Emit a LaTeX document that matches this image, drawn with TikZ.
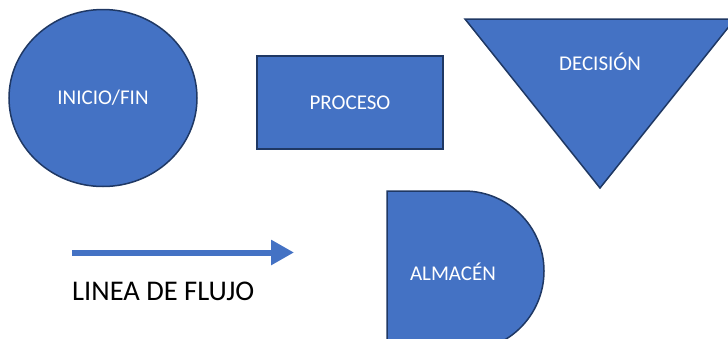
\documentclass[tikz,border=0pt]{standalone}
\usepackage{fontspec}
\setmainfont{Carlito}
\usepackage{xcolor}
\definecolor{colorFill}{HTML}{4472C4}
\definecolor{colorLine}{HTML}{1F3864}
\usetikzlibrary{arrows.meta, shapes.geometric}
\tikzset{shapebox/.style={fill=colorFill, draw=colorLine, line width=1.5pt},
         shapetext/.style={text=white, font=\fontsize{21}{24}\selectfont}}

\begin{document}
\begin{tikzpicture}[x=1pt, y=-1pt]
\useasboundingbox (0,0) rectangle (728,338);
\node[ellipse, shapebox, minimum width=188pt, minimum height=177pt, inner sep=0pt] (inicio) at (103,98) {};
\node[shapetext] at (inicio.center) {INICIO/FIN};
\node[rectangle, shapebox, minimum width=186pt, minimum height=93pt, inner sep=0pt] (proceso) at (350,102.5) {};
\node[shapetext] at (proceso.center) {PROCESO};
\draw[shapebox] (465,19) -- (735,19) -- (600,188) -- cycle;
\node[shapetext] (decision) at (600,62) {DECISIÓN};
\draw[shapebox] (387,191) -- (464,191) arc (-90:90:80) -- (387,351) -- cycle;
\node[shapetext] (almacen) at (453,272) {ALMACÉN};
\coordinate (flujoA) at (72,252.5);
\coordinate (flujoB) at (294,252.5);
\draw[colorFill, line width=6pt, -{Triangle[length=23pt, width=24pt]}] (flujoA) -- (flujoB);
\node[font=\fontsize{28.5}{32}\selectfont, anchor=west, inner sep=0pt] (flujo) at (72,291) {LINEA DE FLUJO};
\end{tikzpicture}
\end{document}
